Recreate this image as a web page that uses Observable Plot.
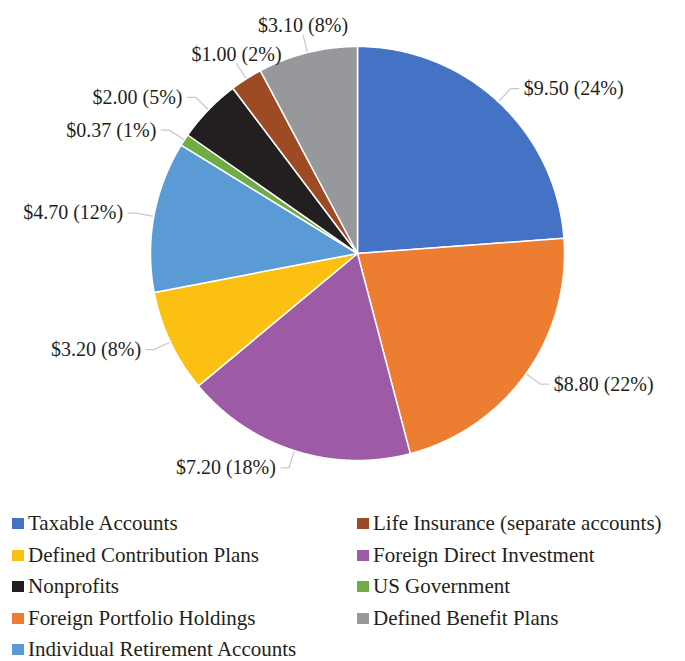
<!DOCTYPE html>
<html>
<head>
<meta charset="utf-8">
<script src="https://cdn.jsdelivr.net/npm/d3@7"></script>
<script src="https://cdn.jsdelivr.net/npm/@observablehq/plot@0.6"></script>
<style>
  html, body { margin: 0; padding: 0; background: #fff; overflow: hidden; }
  #chart { width: 685px; }
  .legend { display: grid; grid-template-columns: 345px 340px; padding: 13px 0 0 12px;
            font-family: "Liberation Serif", "Times New Roman", serif; font-size: 21px; color: #231f20; }
  .item { height: 31.5px; display: flex; align-items: center; white-space: nowrap; }
  .item span.t { line-height: 1; }
  .sw { width: 12px; height: 11px; margin-right: 4px; flex: none; }
</style>
</head>
<body>
<div id="chart"></div>
<script>
// ---- data ----
const names = [
  "Taxable Accounts",
  "Foreign Portfolio Holdings",
  "Foreign Direct Investment",
  "Defined Contribution Plans",
  "Individual Retirement Accounts",
  "US Government",
  "Nonprofits",
  "Life Insurance (separate accounts)",
  "Defined Benefit Plans"
];
const values = [9.50, 8.80, 7.20, 3.20, 4.70, 0.37, 2.00, 1.00, 3.10];
const percents = [24, 22, 18, 8, 12, 1, 5, 2, 8];
const colors = ["#4472C4", "#ED7D31", "#9D5AA5", "#FBC012", "#5B9BD5", "#6FAC46", "#231F20", "#9E4A24", "#97989C"];
const legendOrder = [
  "Taxable Accounts", "Life Insurance (separate accounts)",
  "Defined Contribution Plans", "Foreign Direct Investment",
  "Nonprofits", "US Government",
  "Foreign Portfolio Holdings", "Defined Benefit Plans",
  "Individual Retirement Accounts"
];

// ---- layout ----
const W = 685, H = 495, cx = 357, cy = 253, R = 207;
const leadLen = 18 / R, tail = 8 / R;

const rows = names.map((name, i) => ({name, value: values[i], pct: percents[i]}));
const arcs = d3.pie().sort(null).value(d => d.value).startAngle(0).endAngle(2 * Math.PI)(rows);

// slice polygons (unit circle, y up)
const slicePts = [];
for (const a of arcs) {
  const name = a.data.name;
  slicePts.push({name, x: 0, y: 0});
  const n = Math.max(2, Math.ceil((a.endAngle - a.startAngle) / (Math.PI / 360)));
  for (let k = 0; k <= n; k++) {
    const t = a.startAngle + (a.endAngle - a.startAngle) * k / n;
    slicePts.push({name, x: Math.sin(t), y: Math.cos(t)});
  }
  slicePts.push({name, x: 0, y: 0});
}

// leader lines and labels
const leaderPts = [];
const labels = [];
for (const a of arcs) {
  const m = (a.startAngle + a.endAngle) / 2;
  const s = Math.sin(m), c = Math.cos(m);
  const side = c > 0.8 ? "top" : (s > 0 ? "right" : "left");
  const p1 = {x: s * (1 + leadLen), y: c * (1 + leadLen)};
  const name = a.data.name;
  leaderPts.push({name, x: s, y: c});
  leaderPts.push({name, ...p1});
  let p = p1;
  if (side !== "top") {
    p = {x: p1.x + (side === "right" ? tail : -tail), y: p1.y};
    leaderPts.push({name, ...p});
  }
  labels.push({...p, side, text: `$${a.data.value.toFixed(2)} (${a.data.pct}%)`});
}

const font = {fontSize: 20, fill: "#231f20"};
const chart = Plot.plot({
  width: W, height: H,
  marginLeft: cx - R, marginRight: W - (cx + R), marginTop: cy - R, marginBottom: H - (cy + R),
  x: {domain: [-1, 1], axis: null},
  y: {domain: [-1, 1], axis: null},
  color: {domain: names, range: colors},
  style: {fontFamily: "'Liberation Serif', 'Times New Roman', serif", background: "#fff", overflow: "visible"},
  marks: [
    Plot.line(leaderPts, {x: "x", y: "y", z: "name", stroke: "#c9c9c9", strokeWidth: 1.3}),
    Plot.line(slicePts, {x: "x", y: "y", z: "name", fill: "name", stroke: "white", strokeWidth: 1.5, strokeLinejoin: "round"}),
    Plot.text(labels.filter(d => d.side === "right"), {x: "x", y: "y", text: "text", textAnchor: "start", dx: 5, ...font}),
    Plot.text(labels.filter(d => d.side === "left"), {x: "x", y: "y", text: "text", textAnchor: "end", dx: -5, ...font}),
    Plot.text(labels.filter(d => d.side === "top"), {x: "x", y: "y", text: "text", textAnchor: "middle", lineAnchor: "bottom", dy: -3, ...font})
  ]
});
document.getElementById("chart").appendChild(chart);

// legend
const legend = document.createElement("div");
legend.className = "legend";
for (const name of legendOrder) {
  const item = document.createElement("div");
  item.className = "item";
  const sw = document.createElement("span");
  sw.className = "sw";
  sw.style.background = colors[names.indexOf(name)];
  const lab = document.createElement("span");
  lab.className = "t";
  lab.textContent = name;
  item.appendChild(sw);
  item.appendChild(lab);
  legend.appendChild(item);
}
document.getElementById("chart").appendChild(legend);
</script>
</body>
</html>
